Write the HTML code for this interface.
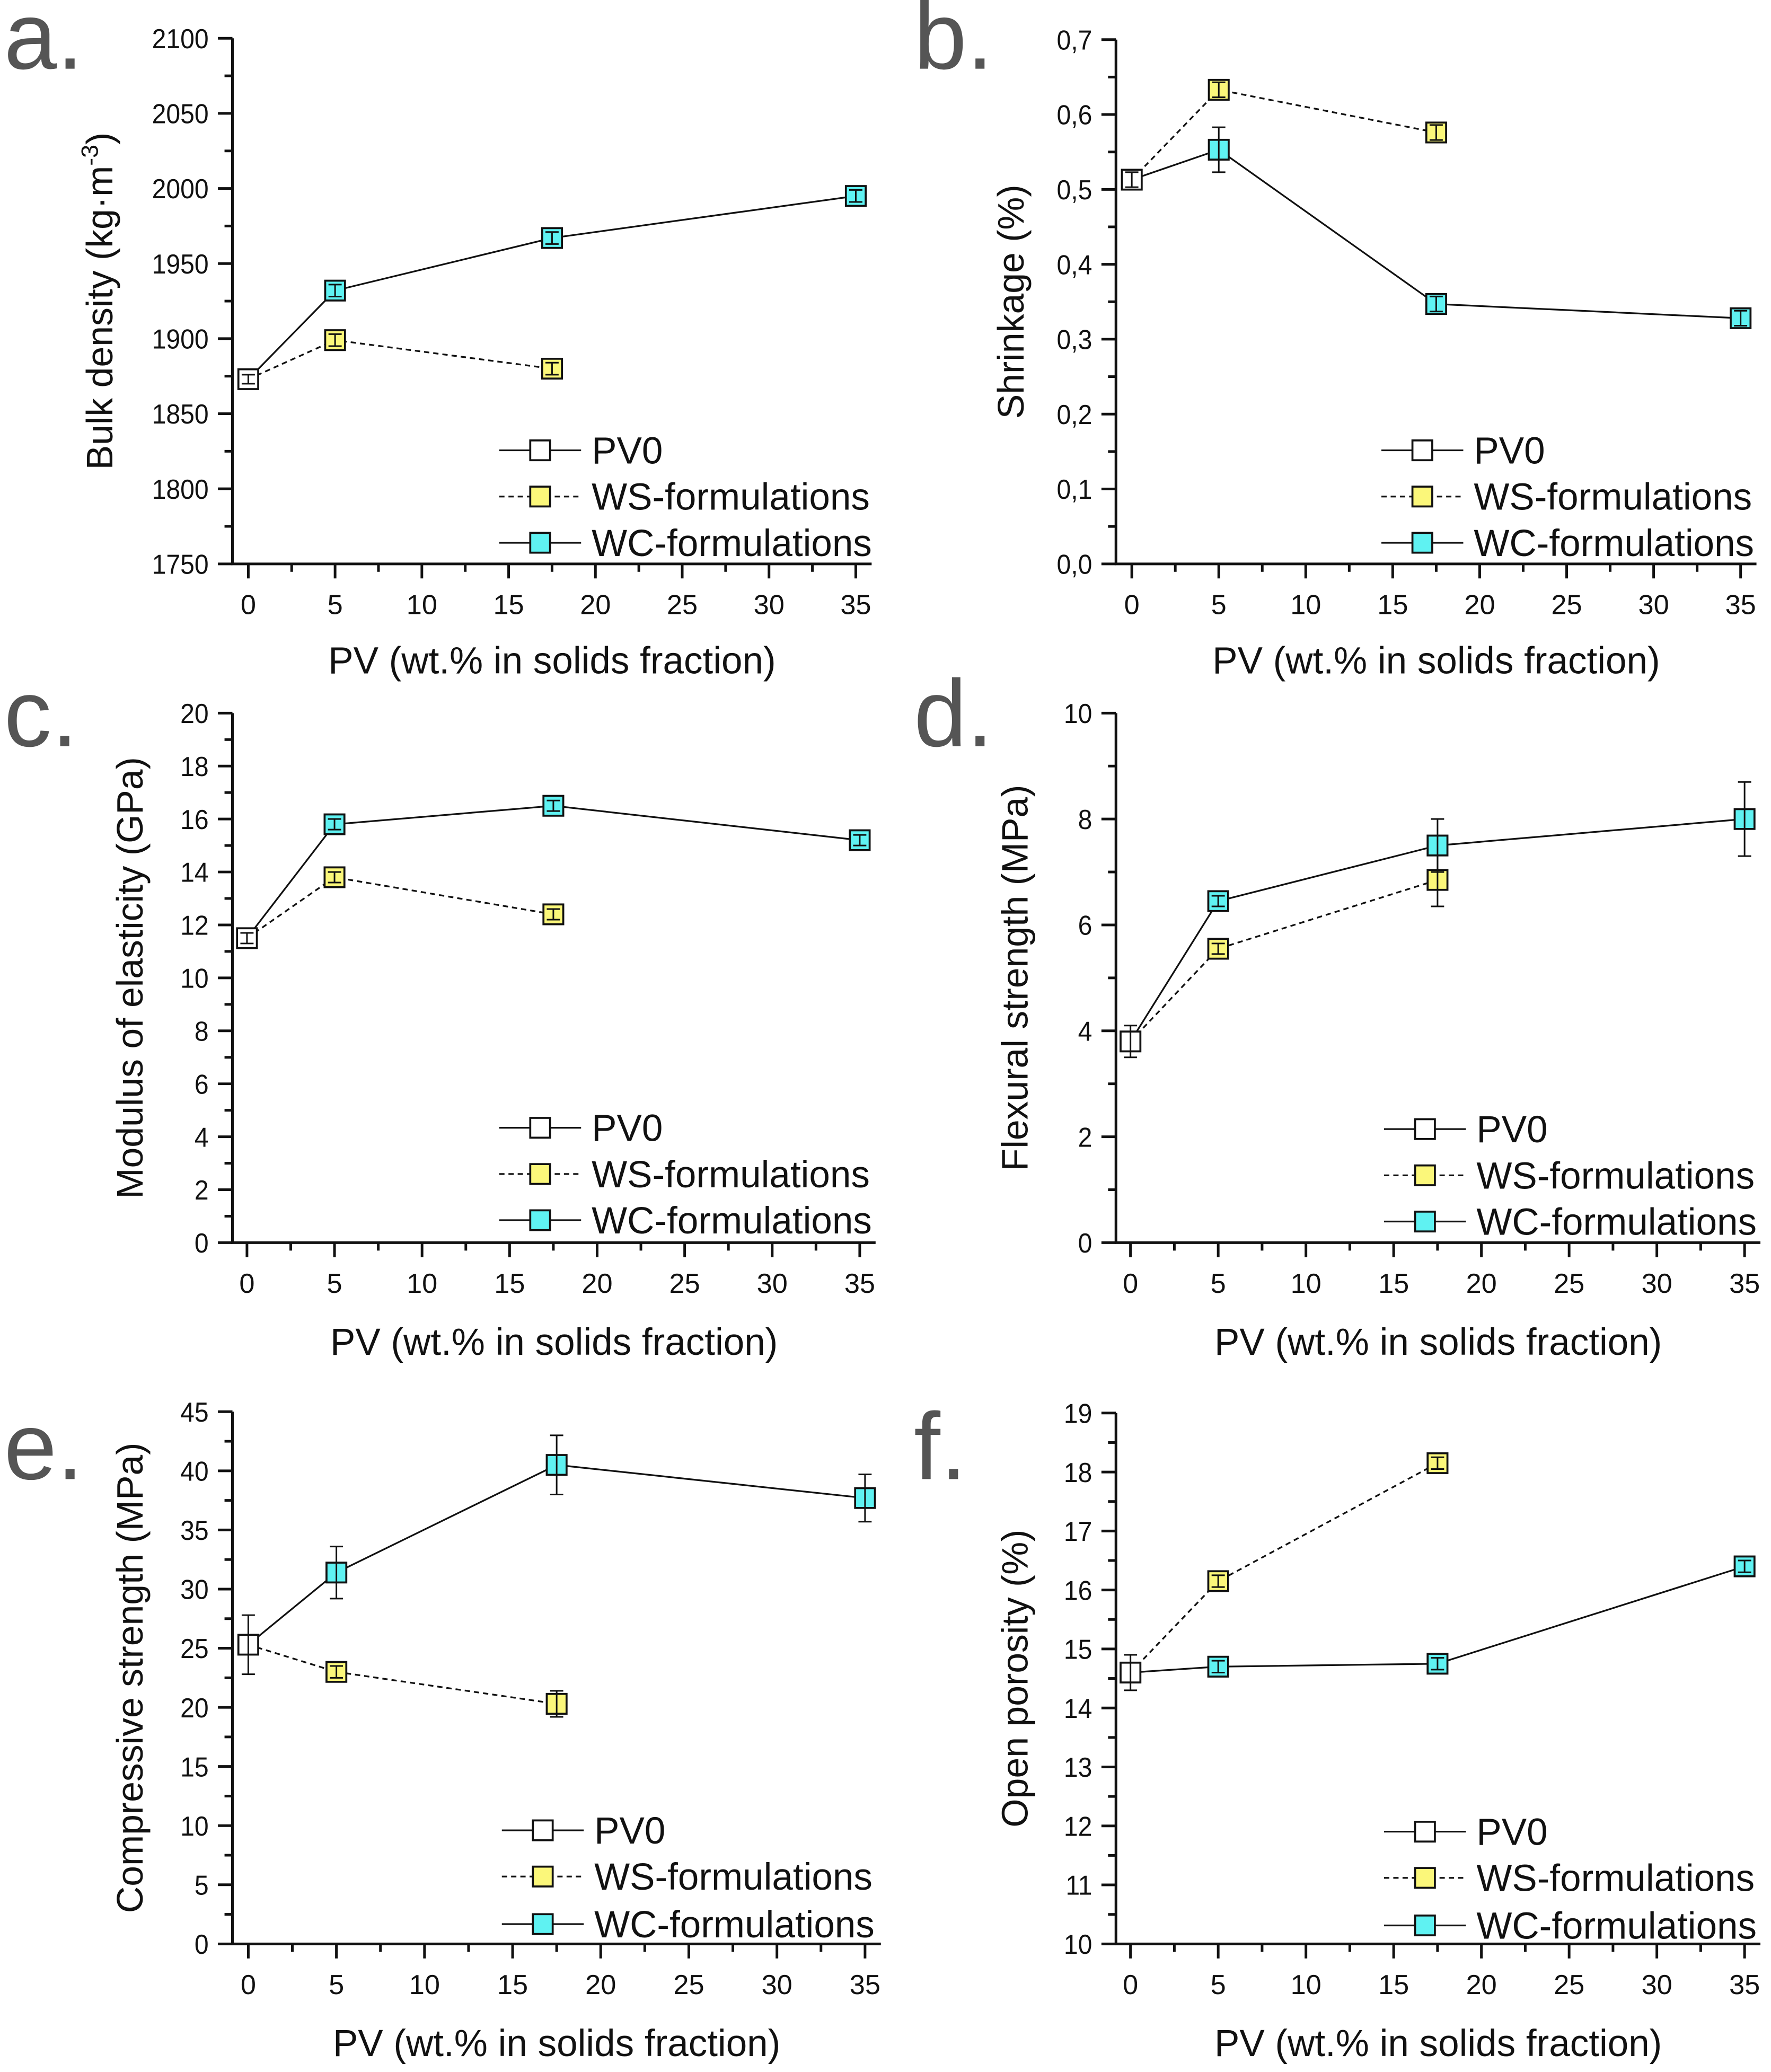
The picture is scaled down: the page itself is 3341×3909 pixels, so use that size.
<!DOCTYPE html>
<html><head><meta charset="utf-8"><style>
html,body{margin:0;padding:0;background:#fff}
svg{display:block}
text{font-family:"Liberation Sans",sans-serif;fill:#111}
</style></head><body>
<svg id="fig" width="3341" height="3909" viewBox="0 0 1341 1569" xmlns="http://www.w3.org/2000/svg"></svg>
<script>
// ---- data ----
const xPV0=[0];
const xWS=[5,17.5];
const xWC=[5,17.5,35];
const pv0A=[1873],pv0AErr=[3], wsA=[1899,1880],wsAErr=[4,4], wcA=[1932,1967,1995],wcAErr=[4,4,4];
const pv0B=[0.513],pv0BErr=[0.01], wsB=[0.633,0.576],wsBErr=[0.01,0.01], wcB=[0.553,0.347,0.328],wcBErr=[0.03,0.01,0.01];
const pv0C=[11.5],pv0CErr=[0.2], wsC=[13.8,12.4],wsCErr=[0.2,0.2], wcC=[15.8,16.5,15.2],wcCErr=[0.2,0.2,0.2];
const pv0D=[3.8],pv0DErr=[0.3], wsD=[5.55,6.85],wsDErr=[0.1,0.5], wcD=[6.45,7.5,8.0],wcDErr=[0.1,0.5,0.7];
const pv0E=[25.3],pv0EErr=[2.5], wsE=[23.0,20.3],wsEErr=[0.5,1.1], wcE=[31.4,40.5,37.7],wcEErr=[2.2,2.5,2.0];
const pv0F=[14.6],pv0FErr=[0.3], wsF=[16.15,18.15],wsFErr=[0.1,0.1], wcF=[14.7,14.75,16.4],wcFErr=[0.1,0.1,0.1];
const xTicks=[0,5,10,15,20,25,30,35];
const yTicksA=[1750,1800,1850,1900,1950,2000,2050,2100];
const yTicksB=[0,0.1,0.2,0.3,0.4,0.5,0.6,0.7];
const yTicksC=[0,2,4,6,8,10,12,14,16,18,20];
const yTicksD=[0,2,4,6,8,10];
const yTicksE=[0,5,10,15,20,25,30,35,40,45];
const yTicksF=[10,11,12,13,14,15,16,17,18,19];
const legendLabels=["PV0","WS-formulations","WC-formulations"];

const NS="http://www.w3.org/2000/svg";
const svg=document.getElementById('fig');
function el(tag,attrs,parent,txt){const e=document.createElementNS(NS,tag);for(const k in attrs)e.setAttribute(k,attrs[k]);if(txt!==undefined)e.textContent=txt;(parent||svg).appendChild(e);return e;}

const panels=[
 {id:'a',letter:'a.',lx:3,ly:52,ax:176,top:29,bot:427,x0:188,x35:648,xend:660,ymin:1750,ymax:2100,ticks:yTicksA,fmt:v=>String(v),title:'Bulk density (kg·m',sup:true,tx:75,pv0:pv0A,pv0E:pv0AErr,ws:wsA,wsE:wsAErr,wc:wcA,wcE:wcAErr,legX:378,legY:[341,376,411],xt:500},
 {id:'b',letter:'b.',lx:692,ly:52,ax:845,top:30,bot:427,x0:857,x35:1318,xend:1330,ymin:0,ymax:0.7,ticks:yTicksB,fmt:v=>v.toFixed(1).replace('.',','),title:'Shrinkage (%)',tx:765,pv0:pv0B,pv0E:pv0BErr,ws:wsB,wsE:wsBErr,wc:wcB,wcE:wcBErr,legX:1046,legY:[341,376,411],xt:500},
 {id:'c',letter:'c.',lx:3,ly:565,ax:176,top:540,bot:941,x0:187,x35:651,xend:663,ymin:0,ymax:20,ticks:yTicksC,fmt:v=>String(v),title:'Modulus of elasticity (GPa)',tx:98,pv0:pv0C,pv0E:pv0CErr,ws:wsC,wsE:wsCErr,wc:wcC,wcE:wcCErr,legX:378,legY:[854,889,924],xt:1016},
 {id:'d',letter:'d.',lx:692,ly:565,ax:845,top:540,bot:941,x0:856,x35:1321,xend:1333,ymin:0,ymax:10,ticks:yTicksD,fmt:v=>String(v),title:'Flexural strength (MPa)',tx:768,pv0:pv0D,pv0E:pv0DErr,ws:wsD,wsE:wsDErr,wc:wcD,wcE:wcDErr,legX:1048,legY:[855,890,925],xt:1016},
 {id:'e',letter:'e.',lx:3,ly:1120,ax:176,top:1069,bot:1472,x0:188,x35:655,xend:667,ymin:0,ymax:45,ticks:yTicksE,fmt:v=>String(v),title:'Compressive strength (MPa)',tx:98,pv0:pv0E,pv0E:pv0EErr,ws:wsE,wsE:wsEErr,wc:wcE,wcE:wcEErr,legX:380,legY:[1386,1421,1457],xt:1547},
 {id:'f',letter:'f.',lx:692,ly:1120,ax:845,top:1070,bot:1472,x0:856,x35:1321,xend:1333,ymin:10,ymax:19,ticks:yTicksF,fmt:v=>String(v),title:'Open porosity (%)',tx:768,pv0:pv0F,pv0E:pv0FErr,ws:wsF,wsE:wsFErr,wc:wcF,wcE:wcFErr,legX:1048,legY:[1387,1422,1458],xt:1547}
];

const COL={pv0:'#ffffff',ws:'#fbf77a',wc:'#5ff2f2'};
function marker(g,cx,cy,fill,name){
  const r=el('rect',{x:cx-7.5,y:cy-7.5,width:15,height:15,fill:fill,stroke:'#111','stroke-width':1.5},g);
  
  
  return r;
}
function errbar(g,cx,yv,e,ys,name){
  const a=ys(yv+e),b=ys(yv-e);
  const p=el('path',{d:`M${cx},${a}V${b}M${cx-5},${a}H${cx+5}M${cx-5},${b}H${cx+5}`,stroke:'#111','stroke-width':1.2,fill:'none'},g);
  
  
}

panels.forEach(P=>{
  const g=el('g',{},svg);
  
  
  const xs=v=>P.x0+(P.x35-P.x0)*v/35;
  const ys=v=>P.bot-(P.bot-P.top)*(v-P.ymin)/(P.ymax-P.ymin);
  const lt=el('text',{x:P.lx,y:P.ly,'font-size':72,style:'fill:#555'},g,P.letter);
  
  
  const ax=el('path',{d:`M${P.ax},${P.top}V${P.bot}H${P.xend}`,stroke:'#111','stroke-width':2,fill:'none'},g);
  
  
  P.ticks.forEach((t,i)=>{
    const y=ys(t);
    el('line',{x1:P.ax-11,x2:P.ax,y1:y,y2:y,stroke:'#111','stroke-width':2},g);
    const lb=el('text',{x:P.ax-18,y:y+7.5,'font-size':21,'text-anchor':'end',transform:`translate(${P.ax-18},0) scale(0.92,1) translate(${-(P.ax-18)},0)`},g,P.fmt(t));
    
    
    if(i<P.ticks.length-1){const m=ys((t+P.ticks[i+1])/2);el('line',{x1:P.ax-6,x2:P.ax,y1:m,y2:m,stroke:'#111','stroke-width':2},g);}
  });
  xTicks.forEach((t,i)=>{
    const x=xs(t);
    el('line',{x1:x,x2:x,y1:P.bot,y2:P.bot+11,stroke:'#111','stroke-width':2},g);
    const lb=el('text',{x:x,y:P.bot+38,'font-size':21,'text-anchor':'middle'},g,String(t));
    
    
    if(i<xTicks.length-1){const m=xs(t+2.5);el('line',{x1:m,x2:m,y1:P.bot,y2:P.bot+6,stroke:'#111','stroke-width':2},g);}
  });
  const cy=(P.top+P.bot)/2;
  const yt=el('text',{x:0,y:0,'font-size':28,'text-anchor':'middle',transform:`translate(${P.tx+10},${cy}) rotate(-90)`},g,P.title);
  if(P.sup){el('tspan',{dy:-11,'font-size':18},yt,'-3');el('tspan',{dy:11},yt,')');}
  
  
  const xt=el('text',{x:(P.ax+P.xend)/2,y:P.xt+10,'font-size':28.5,'text-anchor':'middle'},g,'PV (wt.% in solids fraction)');
  
  
  const x0=xs(xPV0[0]),y0=ys(P.pv0[0]);
  let d=`M${x0},${y0}`;xWC.forEach((x,i)=>d+=`L${xs(x)},${ys(P.wc[i])}`);
  const lw=el('path',{d:d,stroke:'#111','stroke-width':1.3,fill:'none'},g);
  
  
  d=`M${x0},${y0}`;xWS.forEach((x,i)=>d+=`L${xs(x)},${ys(P.ws[i])}`);
  const ld=el('path',{d:d,stroke:'#111','stroke-width':1.3,fill:'none','stroke-dasharray':'4,3'},g);
  
  
  marker(g,x0,y0,COL.pv0,'pv0-point');
  errbar(g,x0,P.pv0[0],P.pv0E[0],ys,'pv0-error-bar');
  xWS.forEach((x,i)=>{marker(g,xs(x),ys(P.ws[i]),COL.ws,'ws-point');errbar(g,xs(x),P.ws[i],P.wsE[i],ys,'ws-error-bar');});
  xWC.forEach((x,i)=>{marker(g,xs(x),ys(P.wc[i]),COL.wc,'wc-point');errbar(g,xs(x),P.wc[i],P.wcE[i],ys,'wc-error-bar');});
  const fills=[COL.pv0,COL.ws,COL.wc];
  legendLabels.forEach((lab,i)=>{
    const y=P.legY[i];
    const lg=el('g',{},g);
    
    
    el('line',{x1:P.legX,x2:P.legX+62,y1:y,y2:y,stroke:'#111','stroke-width':1.3,'stroke-dasharray':i==1?'4,3':'none'},lg);
    el('rect',{x:P.legX+31-7.5,y:y-7.5,width:15,height:15,fill:fills[i],stroke:'#111','stroke-width':1.5},lg);
    el('text',{x:P.legX+70,y:y+10,'font-size':28.5},lg,lab);
  });
});
</script>
</body></html>
